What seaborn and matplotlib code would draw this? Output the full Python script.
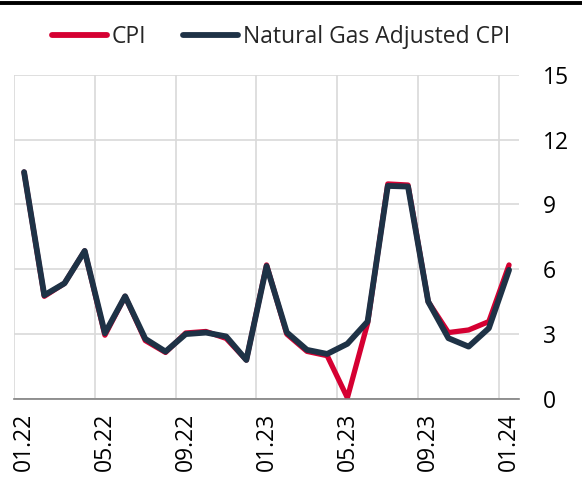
import numpy as np
import pandas as pd
import matplotlib.pyplot as plt
from matplotlib.lines import Line2D
import seaborn as sns

months = ["01.22", "02.22", "03.22", "04.22", "05.22", "06.22", "07.22", "08.22",
          "09.22", "10.22", "11.22", "12.22", "01.23", "02.23", "03.23", "04.23",
          "05.23", "06.23", "07.23", "08.23", "09.23", "10.23", "11.23", "12.23",
          "01.24"]
cpi = [10.5, 4.75, 5.35, 6.85, 2.95, 4.75, 2.7, 2.15, 3.05, 3.12, 2.8, 1.8,
       6.2, 3.0, 2.2, 2.0, 0.05, 3.5, 9.95, 9.9, 4.5, 3.07, 3.19, 3.58, 6.2]
cpi_gas = [10.5, 4.8, 5.35, 6.85, 3.04, 4.75, 2.78, 2.19, 3.0, 3.07, 2.89, 1.8,
           6.15, 3.08, 2.27, 2.08, 2.55, 3.58, 9.86, 9.83, 4.5, 2.81, 2.42, 3.27, 5.97]
series = ["CPI", "Natural Gas Adjusted CPI"]
colors = ["#D50032", "#1E3246"]

df = pd.DataFrame({
    "month": months * 2,
    "value": cpi + cpi_gas,
    "series": [series[0]] * len(months) + [series[1]] * len(months),
})

sns.set_style("white")
plt.rcParams['font.family'] = ['Open Sans', 'DejaVu Sans']

fig = plt.figure(figsize=(5.82, 4.80), dpi=100)
ax = fig.add_axes([0.024, 0.169, 0.868, 0.675])

sns.lineplot(data=df, x="month", y="value", hue="series", palette=colors,
             linewidth=4, ax=ax, legend=False, sort=False)
for ln, w in zip(ax.get_lines(), [3.8, 4.2]):
    ln.set_linewidth(w)
    ln.set_solid_capstyle("round")
    ln.set_solid_joinstyle("round")

ax.set_xlim(-0.5, 24.5)
ax.set_ylim(0, 15)
ax.set_yticks([0, 3, 6, 9, 12, 15])
ax.set_xticks(range(0, 25, 4))
ax.set_xticklabels(months[::4], rotation=90)
ax.set_xticks(np.arange(-0.5, 24, 4), minor=True)
ax.yaxis.tick_right()
ax.tick_params(axis="both", which="both", length=0, labelsize=16.5, colors="black")
ax.tick_params(axis="y", pad=17)
ax.tick_params(axis="x", pad=10)
ax.grid(axis="y", color="#d9d9d9", linewidth=1.2)
ax.grid(axis="x", which="minor", color="#d9d9d9", linewidth=1.2)
ax.set_axisbelow(True)
for s in ["top", "right", "left"]:
    ax.spines[s].set_visible(False)
ax.spines["bottom"].set_color("#808080")
ax.spines["bottom"].set_linewidth(1.2)
ax.set_xlabel("")
ax.set_ylabel("")

handles = [Line2D([], [], color=c, linewidth=4.2, solid_capstyle="round") for c in colors]
fig.legend(handles, series, loc="center", bbox_to_anchor=(0.483, 0.922), ncol=2,
           frameon=False, fontsize=16.5, handlelength=2.4, handletextpad=0.2,
           columnspacing=1.6)

fig.add_artist(Line2D([0, 1], [0.993, 0.993], color="black", linewidth=2.8,
                      transform=fig.transFigure))

fig.savefig("out.png", dpi=100)
